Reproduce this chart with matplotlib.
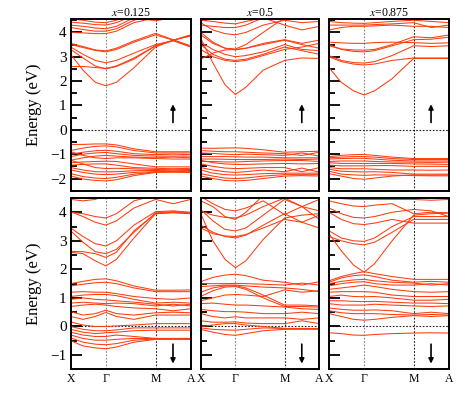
import matplotlib
matplotlib.use("Agg")
import matplotlib.pyplot as plt
import numpy as np

# k-path sample positions (X, ..., Gamma, ..., M, ..., A)
kpts = [0.0, 0.35, 0.7, 1.0, 1.3, 1.8, 2.414, 2.914, 3.414]
sym_pos = [0.0, 1.0, 2.414, 3.414]
sym_labels = ["X", "Γ", "M", "A"]
titles = ["0.125", "0.5", "0.875"]

# ---- spin up, x = 0.125 ----
up_0125 = [
    [3.10, 2.45, 1.95, 1.81, 1.95, 2.55, 3.40, 3.68, 3.90],
    [2.60, 2.60, 2.56, 2.52, 2.62, 2.95, 3.45, 3.68, 3.88],
    [3.30, 2.95, 2.62, 2.50, 2.60, 2.90, 3.45, 3.66, 3.42],
    [3.40, 3.10, 2.85, 2.75, 2.85, 3.15, 3.50, 3.66, 3.40],
    [3.55, 3.42, 3.28, 3.24, 3.35, 3.65, 3.96, 3.70, 3.45],
    [3.50, 3.38, 3.26, 3.20, 3.30, 3.60, 3.90, 3.68, 3.85],
    [4.00, 3.98, 3.95, 3.95, 4.05, 4.40, 4.60, 4.60, 4.60],
    [4.20, 4.12, 4.05, 4.05, 4.15, 4.50, 4.70, 4.70, 4.70],
    [4.30, 4.25, 4.18, 4.15, 4.25, 4.60, 4.48, 4.60, 4.70],
    [4.42, 4.38, 4.32, 4.30, 4.40, 4.70, 4.80, 4.80, 4.80],
    [4.55, 4.50, 4.42, 4.40, 4.50, 4.80, 4.90, 4.90, 4.90],
    [-0.60, -0.60, -0.58, -0.58, -0.62, -0.78, -0.90, -0.90, -0.90],
    [-0.85, -0.75, -0.68, -0.66, -0.70, -0.85, -0.95, -0.95, -0.95],
    [-1.00, -0.92, -0.86, -0.84, -0.88, -0.98, -1.02, -1.00, -1.02],
    [-1.10, -1.00, -0.95, -0.93, -0.98, -1.05, -1.08, -1.08, -1.08],
    [-1.25, -1.15, -1.08, -1.05, -1.08, -1.12, -1.15, -1.12, -1.15],
    [-0.90, -1.05, -1.15, -1.18, -1.15, -1.15, -1.18, -1.20, -1.20],
    [-1.35, -1.32, -1.30, -1.29, -1.30, -1.40, -1.52, -1.52, -1.52],
    [-1.45, -1.42, -1.40, -1.40, -1.45, -1.55, -1.58, -1.60, -1.58],
    [-1.25, -1.40, -1.55, -1.59, -1.58, -1.60, -1.63, -1.62, -1.63],
    [-1.55, -1.65, -1.72, -1.73, -1.72, -1.68, -1.67, -1.68, -1.67],
    [-1.65, -1.75, -1.82, -1.84, -1.82, -1.75, -1.72, -1.72, -1.72],
    [-1.80, -1.92, -1.98, -2.00, -1.95, -1.82, -1.73, -1.72, -1.73],
    [-1.90, -2.02, -2.08, -2.10, -2.05, -1.88, -1.75, -1.74, -1.75],
]

# ---- spin up, x = 0.5 ----
up_05 = [
    [3.75, 2.75, 1.85, 1.45, 1.75, 2.45, 2.85, 2.95, 2.93],
    [3.30, 3.00, 2.85, 2.80, 2.85, 3.05, 3.30, 3.40, 3.55],
    [3.50, 3.10, 2.90, 2.85, 2.90, 3.10, 3.40, 3.25, 3.10],
    [3.60, 3.30, 3.10, 3.00, 3.05, 3.20, 3.50, 3.30, 3.25],
    [2.90, 3.15, 3.28, 3.30, 3.35, 3.50, 3.68, 3.50, 3.35],
    [4.00, 3.60, 3.35, 3.28, 3.35, 3.55, 3.70, 3.55, 3.68],
    [3.90, 3.55, 3.35, 3.32, 3.50, 4.00, 4.60, 4.60, 4.60],
    [4.30, 4.25, 4.20, 4.20, 4.30, 4.60, 4.30, 4.10, 4.25],
    [4.50, 4.45, 4.38, 4.35, 4.45, 4.60, 4.70, 4.70, 4.70],
    [4.40, 4.10, 3.95, 3.90, 4.00, 4.30, 4.50, 4.40, 4.45],
    [-0.75, -0.76, -0.75, -0.74, -0.76, -0.82, -0.92, -0.90, -0.88],
    [-0.85, -0.88, -0.90, -0.90, -0.92, -0.95, -0.98, -1.05, -0.92],
    [-0.95, -0.97, -1.00, -1.02, -1.00, -1.02, -1.05, -0.95, -1.08],
    [-1.10, -1.10, -1.10, -1.11, -1.12, -1.12, -1.15, -1.15, -1.15],
    [-1.20, -1.20, -1.21, -1.22, -1.22, -1.22, -1.20, -1.22, -1.20],
    [-1.30, -1.30, -1.32, -1.32, -1.30, -1.28, -1.26, -1.26, -1.30],
    [-1.25, -1.35, -1.40, -1.42, -1.42, -1.40, -1.38, -1.40, -1.38],
    [-1.40, -1.50, -1.57, -1.59, -1.58, -1.55, -1.55, -1.72, -1.55],
    [-1.55, -1.65, -1.72, -1.75, -1.72, -1.65, -1.72, -1.57, -1.74],
    [-1.65, -1.78, -1.84, -1.86, -1.84, -1.80, -1.78, -1.78, -1.78],
    [-1.80, -1.90, -1.98, -2.00, -1.98, -1.90, -1.84, -1.84, -1.84],
    [-1.90, -2.00, -2.08, -2.10, -2.08, -2.00, -1.90, -1.88, -1.90],
]

# ---- spin up, x = 0.875 ----
up_0875 = [
    [2.55, 1.95, 1.60, 1.43, 1.60, 2.10, 2.93, 2.93, 2.93],
    [3.00, 2.80, 2.70, 2.66, 2.70, 2.85, 2.95, 2.95, 2.95],
    [3.05, 2.85, 2.76, 2.74, 2.80, 3.05, 3.45, 3.42, 3.45],
    [3.50, 3.30, 3.22, 3.20, 3.25, 3.45, 3.70, 3.72, 3.80],
    [3.45, 3.32, 3.28, 3.27, 3.30, 3.50, 3.82, 3.78, 3.89],
    [3.60, 3.57, 3.55, 3.55, 3.58, 3.60, 3.58, 3.55, 3.57],
    [4.30, 4.30, 4.30, 4.30, 4.32, 4.35, 4.40, 4.20, 4.30],
    [4.45, 4.40, 4.38, 4.37, 4.40, 4.45, 4.50, 4.45, 4.40],
    [4.10, 4.20, 4.25, 4.25, 4.27, 4.30, 4.25, 4.25, 4.20],
    [-1.10, -1.05, -1.02, -1.01, -1.05, -1.12, -1.18, -1.18, -1.18],
    [-1.15, -1.12, -1.10, -1.10, -1.12, -1.18, -1.22, -1.22, -1.22],
    [-1.20, -1.18, -1.17, -1.17, -1.20, -1.25, -1.28, -1.28, -1.28],
    [-1.30, -1.28, -1.28, -1.28, -1.30, -1.32, -1.33, -1.34, -1.33],
    [-1.35, -1.38, -1.38, -1.38, -1.38, -1.38, -1.40, -1.41, -1.42],
    [-1.45, -1.48, -1.48, -1.48, -1.47, -1.47, -1.50, -1.50, -1.50],
    [-1.55, -1.60, -1.60, -1.60, -1.62, -1.65, -1.65, -1.66, -1.65],
    [-1.62, -1.70, -1.72, -1.73, -1.72, -1.75, -1.82, -1.82, -1.82],
    [-1.70, -1.82, -1.85, -1.87, -1.85, -1.86, -1.88, -1.89, -1.89],
    [-1.80, -1.90, -2.00, -2.03, -1.98, -1.90, -1.85, -1.86, -1.85],
]

# ---- spin down, x = 0.125 ----
dn_0125 = [
    [4.02, 3.85, 3.65, 3.55, 3.70, 4.15, 4.45, 4.30, 4.45],
    [3.45, 3.15, 2.90, 2.82, 3.00, 3.55, 4.02, 4.05, 4.00],
    [3.35, 2.95, 2.62, 2.55, 2.70, 3.30, 3.98, 4.02, 3.98],
    [2.63, 2.62, 2.55, 2.42, 2.60, 3.35, 3.95, 4.00, 3.96],
    [2.60, 2.55, 2.30, 2.12, 2.35, 3.10, 3.95, 3.98, 3.95],
    [4.00, 3.95, 3.85, 3.80, 3.95, 4.40, 4.60, 4.60, 4.60],
    [4.45, 4.40, 4.45, 4.60, 4.70, 4.70, 4.70, 4.70, 4.70],
    [1.50, 1.58, 1.65, 1.67, 1.60, 1.42, 1.27, 1.27, 1.28],
    [1.42, 1.48, 1.53, 1.55, 1.50, 1.35, 1.22, 1.22, 1.22],
    [1.20, 1.22, 1.20, 1.20, 1.15, 1.05, 0.98, 0.95, 1.00],
    [1.05, 1.10, 1.12, 1.12, 1.08, 0.95, 0.82, 0.85, 0.82],
    [0.95, 1.00, 0.95, 0.93, 0.90, 0.85, 0.78, 0.72, 0.78],
    [0.82, 0.85, 0.82, 0.80, 0.82, 0.80, 0.72, 0.78, 0.72],
    [0.70, 0.75, 0.78, 0.75, 0.70, 0.65, 0.62, 0.55, 0.62],
    [0.52, 0.40, 0.45, 0.57, 0.45, 0.40, 0.48, 0.50, 0.48],
    [0.35, 0.25, 0.35, 0.49, 0.35, 0.25, 0.40, 0.40, 0.40],
    [0.16, 0.05, 0.00, 0.00, 0.02, 0.05, 0.10, 0.10, 0.10],
    [0.00, -0.10, -0.15, -0.15, -0.12, -0.05, -0.05, -0.05, -0.05],
    [-0.10, -0.20, -0.25, -0.22, -0.20, -0.15, -0.13, -0.13, -0.13],
    [-0.20, -0.30, -0.35, -0.35, -0.30, -0.35, -0.42, -0.42, -0.42],
    [-0.30, -0.42, -0.48, -0.48, -0.45, -0.42, -0.42, -0.42, -0.42],
    [-0.40, -0.55, -0.62, -0.64, -0.60, -0.48, -0.44, -0.44, -0.44],
    [-0.50, -0.68, -0.75, -0.78, -0.72, -0.55, -0.45, -0.45, -0.45],
]

# ---- spin down, x = 0.5 ----
dn_05 = [
    [3.95, 3.00, 2.35, 2.06, 2.30, 3.05, 3.80, 3.90, 3.95],
    [3.55, 3.30, 3.15, 3.10, 3.20, 3.55, 3.95, 3.65, 3.45],
    [3.45, 3.25, 3.17, 3.15, 3.22, 3.45, 3.75, 3.65, 3.90],
    [4.10, 3.70, 3.40, 3.35, 3.45, 3.90, 4.45, 4.20, 4.05],
    [4.05, 3.90, 3.82, 3.80, 3.90, 4.20, 4.50, 4.20, 3.75],
    [4.40, 4.20, 3.85, 3.75, 4.00, 4.60, 4.70, 4.70, 4.70],
    [4.55, 4.30, 4.10, 4.05, 4.15, 4.40, 3.92, 4.20, 4.45],
    [1.57, 1.72, 1.80, 1.83, 1.78, 1.62, 1.55, 1.45, 1.57],
    [1.50, 1.50, 1.50, 1.51, 1.50, 1.48, 1.45, 1.52, 1.45],
    [1.40, 1.42, 1.45, 1.45, 1.42, 1.38, 1.35, 1.30, 1.22],
    [1.20, 1.35, 1.42, 1.43, 1.35, 1.10, 0.75, 0.75, 0.72],
    [1.05, 1.25, 1.38, 1.40, 1.30, 1.00, 0.70, 0.70, 0.68],
    [0.90, 1.00, 1.10, 1.12, 1.10, 1.05, 1.28, 1.20, 1.25],
    [0.80, 0.82, 0.78, 0.75, 0.75, 0.72, 0.68, 0.62, 0.60],
    [0.60, 0.55, 0.52, 0.52, 0.50, 0.45, 0.45, 0.50, 0.45],
    [0.45, 0.35, 0.30, 0.34, 0.30, 0.30, 0.30, 0.25, 0.30],
    [0.20, 0.15, 0.15, 0.16, 0.12, 0.10, 0.10, 0.20, 0.10],
    [0.00, 0.05, 0.10, 0.10, 0.05, 0.00, -0.07, -0.07, -0.07],
    [-0.05, -0.10, -0.12, -0.13, -0.10, -0.05, -0.07, -0.07, -0.07],
    [-0.10, -0.20, -0.28, -0.31, -0.25, -0.15, -0.10, -0.10, -0.10],
]

# ---- spin down, x = 0.875 ----
dn_0875 = [
    [3.25, 2.65, 2.15, 1.90, 2.20, 3.00, 3.90, 3.95, 3.97],
    [3.15, 3.00, 2.90, 2.86, 2.95, 3.30, 3.75, 3.75, 3.75],
    [3.35, 3.10, 3.00, 2.98, 3.10, 3.50, 3.85, 3.85, 3.85],
    [4.00, 3.75, 3.60, 3.57, 3.62, 3.75, 3.62, 3.62, 3.62],
    [4.15, 3.95, 3.82, 3.80, 3.85, 4.00, 4.10, 4.05, 3.85],
    [4.40, 4.30, 4.22, 4.20, 4.25, 4.30, 3.95, 4.00, 3.98],
    [4.50, 4.48, 4.45, 4.45, 4.45, 4.45, 4.45, 4.42, 4.45],
    [1.60, 1.75, 1.85, 1.92, 1.85, 1.75, 1.65, 1.65, 1.65],
    [1.55, 1.70, 1.78, 1.81, 1.75, 1.62, 1.55, 1.58, 1.55],
    [1.50, 1.58, 1.63, 1.65, 1.60, 1.55, 1.52, 1.45, 1.50],
    [1.42, 1.50, 1.55, 1.57, 1.50, 1.45, 1.45, 1.50, 1.45],
    [1.30, 1.35, 1.40, 1.45, 1.40, 1.30, 1.22, 1.20, 1.22],
    [1.20, 1.22, 1.22, 1.22, 1.20, 1.10, 1.05, 1.05, 1.05],
    [1.05, 1.10, 1.05, 1.04, 1.05, 1.00, 0.92, 0.92, 0.95],
    [0.90, 0.90, 0.88, 0.87, 0.88, 0.85, 0.82, 0.82, 0.80],
    [0.80, 0.75, 0.75, 0.75, 0.78, 0.75, 0.72, 0.70, 0.72],
    [0.65, 0.60, 0.57, 0.57, 0.58, 0.55, 0.45, 0.50, 0.45],
    [0.55, 0.48, 0.45, 0.45, 0.45, 0.42, 0.40, 0.42, 0.40],
    [0.45, 0.35, 0.25, 0.22, 0.25, 0.32, 0.38, 0.35, 0.38],
    [-0.22, -0.25, -0.30, -0.31, -0.28, -0.25, -0.23, -0.22, -0.23],
]

up_sets = [up_0125, up_05, up_0875]
dn_sets = [dn_0125, dn_05, dn_0875]
ylim_up = (-2.5, 4.55)
ylim_dn = (-1.5, 4.5)
arrow_k = 2.91
arrow_up = (0.3, 1.05)
arrow_dn = (-0.62, -1.3)

band_color = "#ff3c0f"
W, H = 472, 393
fig = plt.figure(figsize=(W / 100, H / 100), dpi=100)
plt.rcParams["font.family"] = ["Liberation Serif", "DejaVu Serif"]
plt.rcParams["mathtext.fontset"] = "stix"

cols_px = [(70.7, 190.7), (200.7, 319.3), (329.0, 448.7)]
rows_px = [(19.0, 190.7), (198.0, 369.3)]

for r, (sets, ylim, arr) in enumerate([(up_sets, ylim_up, arrow_up), (dn_sets, ylim_dn, arrow_dn)]):
    for c, bands in enumerate(sets):
        x0, x1 = cols_px[c]
        y0, y1 = rows_px[r]
        ax = fig.add_axes([x0 / W, 1 - y1 / H, (x1 - x0) / W, (y1 - y0) / H])
        for b in bands:
            ax.plot(kpts, b, color=band_color, lw=0.75, solid_joinstyle="round")
        ax.axvline(sym_pos[1], color="#888888", lw=0.8, ls=(0, (1.5, 1.5)), zorder=0)
        ax.axvline(sym_pos[2], color="#222222", lw=0.8, ls=(0, (1.5, 1.5)), zorder=0)
        ax.axhline(0, color="#222222", lw=0.8, ls=(0, (1.5, 1.5)), zorder=0)
        ax.set_xlim(sym_pos[0], sym_pos[-1])
        ax.set_ylim(*ylim)
        ax.set_yticks(np.arange(np.ceil(ylim[0]), ylim[1] + 0.01, 1))
        ax.set_yticks(np.arange(np.ceil(ylim[0] * 2) / 2, ylim[1] + 0.01, 0.5), minor=True)
        ax.tick_params(axis="y", which="major", direction="in", length=8, width=1.3,
                       labelsize=11, pad=3, right=False)
        ax.tick_params(axis="y", which="minor", direction="in", length=4.5, width=1.3, right=False)
        if c > 0:
            ax.tick_params(axis="y", labelleft=False)
        else:
            ax.set_ylabel("Energy (eV)", fontsize=12, labelpad=6)
        ax.set_yticklabels([f"{v:g}".replace("-", "\u2212") for v in ax.get_yticks()]) if c == 0 else None
        if r == 1:
            ax.set_xticks(sym_pos)
            ax.set_xticklabels(sym_labels, fontsize=8.5)
            ax.tick_params(axis="x", length=0, pad=3)
        else:
            ax.set_xticks([])
            ax.set_title(r"$x$=" + titles[c], fontsize=8.5, pad=2)
        for s in ax.spines.values():
            s.set_linewidth(1.4)
        ax.annotate("", xy=(arrow_k, arr[1]), xytext=(arrow_k, arr[0]),
                    arrowprops=dict(arrowstyle="-|>", color="black", lw=1.2,
                                    mutation_scale=7, shrinkA=0, shrinkB=0))

fig.savefig("out.png", dpi=100)
